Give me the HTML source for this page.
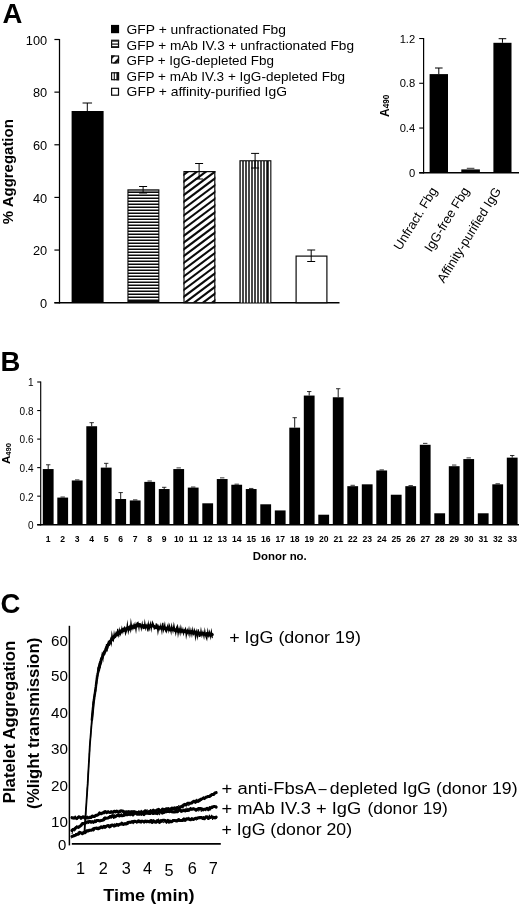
<!DOCTYPE html>
<html lang="en">
<head>
<meta charset="utf-8">
<title>Figure</title>
<style>
html,body{margin:0;padding:0;background:#fff;}
body{width:520px;height:907px;overflow:hidden;}
svg{display:block;will-change:transform;}
svg text{font-family:"Liberation Sans", Arial, Helvetica, sans-serif;fill:#000;}
</style>
</head>
<body>
<svg width="520" height="907" viewBox="0 0 520 907">
<rect x="0" y="0" width="520" height="907" fill="#fff"/>
<defs><clipPath id="cb2"><rect x="127.4" y="189.3" width="32" height="113.4"/></clipPath><clipPath id="cb3"><rect x="183.4" y="171" width="32" height="131.7"/></clipPath><clipPath id="cb4"><rect x="239.4" y="160.2" width="32" height="142.5"/></clipPath></defs>
<text x="2.40" y="22.90" font-size="27.5" font-weight="bold">A</text>
<line x1="59.50" y1="39.00" x2="59.50" y2="303.40" stroke="#000" stroke-width="1.25"/>
<line x1="54.40" y1="302.70" x2="339.50" y2="302.70" stroke="#000" stroke-width="1.45"/>
<line x1="54.40" y1="302.70" x2="59.50" y2="302.70" stroke="#000" stroke-width="1.2"/>
<text x="47.20" y="307.90" font-size="12.8" text-anchor="end">0</text>
<line x1="54.40" y1="250.06" x2="59.50" y2="250.06" stroke="#000" stroke-width="1.2"/>
<text x="47.20" y="255.26" font-size="12.8" text-anchor="end">20</text>
<line x1="54.40" y1="197.42" x2="59.50" y2="197.42" stroke="#000" stroke-width="1.2"/>
<text x="47.20" y="202.62" font-size="12.8" text-anchor="end">40</text>
<line x1="54.40" y1="144.78" x2="59.50" y2="144.78" stroke="#000" stroke-width="1.2"/>
<text x="47.20" y="149.98" font-size="12.8" text-anchor="end">60</text>
<line x1="54.40" y1="92.14" x2="59.50" y2="92.14" stroke="#000" stroke-width="1.2"/>
<text x="47.20" y="97.34" font-size="12.8" text-anchor="end">80</text>
<line x1="54.40" y1="39.50" x2="59.50" y2="39.50" stroke="#000" stroke-width="1.2"/>
<text x="47.20" y="44.70" font-size="12.8" text-anchor="end">100</text>
<text x="12.60" y="171.70" font-size="14.8" font-weight="bold" text-anchor="middle" textLength="105.0" lengthAdjust="spacingAndGlyphs" transform="rotate(-90 12.60 171.70)">% Aggregation</text>
<rect x="71.60" y="111.00" width="32.00" height="191.70" fill="#000"/>
<rect x="127.40" y="189.30" width="32.00" height="113.40" fill="#0a0a0a"/>
<g clip-path="url(#cb2)">
<rect x="128.50" y="190.40" width="29.80" height="1.30" fill="#9a9a9a"/>
<rect x="128.50" y="193.00" width="29.80" height="1.50" fill="#fff"/>
<rect x="128.50" y="196.00" width="29.80" height="1.50" fill="#fff"/>
<rect x="128.50" y="199.00" width="29.80" height="1.50" fill="#fff"/>
<rect x="128.50" y="202.00" width="29.80" height="1.50" fill="#fff"/>
<rect x="128.50" y="205.00" width="29.80" height="1.50" fill="#fff"/>
<rect x="128.50" y="208.00" width="29.80" height="1.50" fill="#fff"/>
<rect x="128.50" y="211.00" width="29.80" height="1.50" fill="#fff"/>
<rect x="128.50" y="214.00" width="29.80" height="1.50" fill="#fff"/>
<rect x="128.50" y="217.00" width="29.80" height="1.50" fill="#fff"/>
<rect x="128.50" y="220.00" width="29.80" height="1.50" fill="#fff"/>
<rect x="128.50" y="223.00" width="29.80" height="1.50" fill="#fff"/>
<rect x="128.50" y="226.00" width="29.80" height="1.50" fill="#fff"/>
<rect x="128.50" y="229.00" width="29.80" height="1.50" fill="#fff"/>
<rect x="128.50" y="232.00" width="29.80" height="1.50" fill="#fff"/>
<rect x="128.50" y="235.00" width="29.80" height="1.50" fill="#fff"/>
<rect x="128.50" y="238.00" width="29.80" height="1.50" fill="#fff"/>
<rect x="128.50" y="241.00" width="29.80" height="1.50" fill="#fff"/>
<rect x="128.50" y="244.00" width="29.80" height="1.50" fill="#fff"/>
<rect x="128.50" y="247.00" width="29.80" height="1.50" fill="#fff"/>
<rect x="128.50" y="250.00" width="29.80" height="1.50" fill="#fff"/>
<rect x="128.50" y="253.00" width="29.80" height="1.50" fill="#fff"/>
<rect x="128.50" y="256.00" width="29.80" height="1.50" fill="#fff"/>
<rect x="128.50" y="259.00" width="29.80" height="1.50" fill="#fff"/>
<rect x="128.50" y="262.00" width="29.80" height="1.50" fill="#fff"/>
<rect x="128.50" y="265.00" width="29.80" height="1.50" fill="#fff"/>
<rect x="128.50" y="268.00" width="29.80" height="1.50" fill="#fff"/>
<rect x="128.50" y="271.00" width="29.80" height="1.50" fill="#fff"/>
<rect x="128.50" y="274.00" width="29.80" height="1.50" fill="#fff"/>
<rect x="128.50" y="277.00" width="29.80" height="1.50" fill="#fff"/>
<rect x="128.50" y="280.00" width="29.80" height="1.50" fill="#fff"/>
<rect x="128.50" y="283.00" width="29.80" height="1.50" fill="#fff"/>
<rect x="128.50" y="286.00" width="29.80" height="1.50" fill="#fff"/>
<rect x="128.50" y="289.00" width="29.80" height="1.50" fill="#fff"/>
<rect x="128.50" y="292.00" width="29.80" height="1.50" fill="#fff"/>
<rect x="128.50" y="295.00" width="29.80" height="1.50" fill="#fff"/>
<rect x="128.50" y="298.00" width="29.80" height="1.50" fill="#fff"/>
</g>
<rect x="184.00" y="171.60" width="30.80" height="131.10" fill="#fff" stroke="#0a0a0a" stroke-width="1.2"/>
<g clip-path="url(#cb3)" stroke="#0a0a0a" stroke-width="2.1">
<line x1="181.40" y1="162.94" x2="217.40" y2="135.94"/>
<line x1="181.40" y1="169.72" x2="217.40" y2="142.72"/>
<line x1="181.40" y1="176.50" x2="217.40" y2="149.50"/>
<line x1="181.40" y1="183.28" x2="217.40" y2="156.28"/>
<line x1="181.40" y1="190.06" x2="217.40" y2="163.06"/>
<line x1="181.40" y1="196.84" x2="217.40" y2="169.84"/>
<line x1="181.40" y1="203.62" x2="217.40" y2="176.62"/>
<line x1="181.40" y1="210.40" x2="217.40" y2="183.40"/>
<line x1="181.40" y1="217.18" x2="217.40" y2="190.18"/>
<line x1="181.40" y1="223.96" x2="217.40" y2="196.96"/>
<line x1="181.40" y1="230.74" x2="217.40" y2="203.74"/>
<line x1="181.40" y1="237.52" x2="217.40" y2="210.52"/>
<line x1="181.40" y1="244.30" x2="217.40" y2="217.30"/>
<line x1="181.40" y1="251.08" x2="217.40" y2="224.08"/>
<line x1="181.40" y1="257.86" x2="217.40" y2="230.86"/>
<line x1="181.40" y1="264.64" x2="217.40" y2="237.64"/>
<line x1="181.40" y1="271.42" x2="217.40" y2="244.42"/>
<line x1="181.40" y1="278.20" x2="217.40" y2="251.20"/>
<line x1="181.40" y1="284.98" x2="217.40" y2="257.98"/>
<line x1="181.40" y1="291.76" x2="217.40" y2="264.76"/>
<line x1="181.40" y1="298.54" x2="217.40" y2="271.54"/>
<line x1="181.40" y1="305.32" x2="217.40" y2="278.32"/>
<line x1="181.40" y1="312.10" x2="217.40" y2="285.10"/>
<line x1="181.40" y1="318.88" x2="217.40" y2="291.88"/>
<line x1="181.40" y1="325.66" x2="217.40" y2="298.66"/>
<line x1="181.40" y1="332.44" x2="217.40" y2="305.44"/>
</g>
<rect x="239.40" y="160.20" width="32.00" height="142.50" fill="#0a0a0a"/>
<g clip-path="url(#cb4)">
<rect x="240.75" y="161.30" width="1.50" height="141.40" fill="#fff"/>
<rect x="243.75" y="161.30" width="1.50" height="141.40" fill="#fff"/>
<rect x="246.75" y="161.30" width="1.50" height="141.40" fill="#fff"/>
<rect x="249.75" y="161.30" width="1.50" height="141.40" fill="#fff"/>
<rect x="252.75" y="161.30" width="1.50" height="141.40" fill="#fff"/>
<rect x="255.75" y="161.30" width="1.50" height="141.40" fill="#fff"/>
<rect x="258.75" y="161.30" width="1.50" height="141.40" fill="#fff"/>
<rect x="261.75" y="161.30" width="1.50" height="141.40" fill="#fff"/>
<rect x="264.75" y="161.30" width="1.50" height="141.40" fill="#fff"/>
<rect x="268.75" y="161.30" width="1.50" height="141.40" fill="#fff"/>
</g>
<rect x="296.10" y="256.10" width="30.80" height="46.60" fill="#fff" stroke="#0a0a0a" stroke-width="1.2"/>
<line x1="87.30" y1="103.00" x2="87.30" y2="111.00" stroke="#000" stroke-width="1.0"/>
<line x1="82.55" y1="103.00" x2="92.05" y2="103.00" stroke="#000" stroke-width="1.0"/>
<line x1="143.10" y1="186.50" x2="143.10" y2="193.00" stroke="#000" stroke-width="1.0"/>
<line x1="139.10" y1="186.50" x2="147.10" y2="186.50" stroke="#000" stroke-width="1.0"/>
<line x1="139.10" y1="193.00" x2="147.10" y2="193.00" stroke="#000" stroke-width="1.0"/>
<line x1="199.10" y1="163.50" x2="199.10" y2="179.00" stroke="#000" stroke-width="1.0"/>
<line x1="195.10" y1="163.50" x2="203.10" y2="163.50" stroke="#000" stroke-width="1.0"/>
<line x1="195.10" y1="179.00" x2="203.10" y2="179.00" stroke="#000" stroke-width="1.0"/>
<line x1="255.10" y1="153.40" x2="255.10" y2="168.00" stroke="#000" stroke-width="1.0"/>
<line x1="251.10" y1="153.40" x2="259.10" y2="153.40" stroke="#000" stroke-width="1.0"/>
<line x1="251.10" y1="168.00" x2="259.10" y2="168.00" stroke="#000" stroke-width="1.0"/>
<line x1="311.20" y1="250.00" x2="311.20" y2="261.50" stroke="#000" stroke-width="1.0"/>
<line x1="307.20" y1="250.00" x2="315.20" y2="250.00" stroke="#000" stroke-width="1.0"/>
<line x1="307.20" y1="261.50" x2="315.20" y2="261.50" stroke="#000" stroke-width="1.0"/>
<rect x="111.00" y="24.90" width="8.10" height="8.30" fill="#000"/>
<rect x="111.60" y="40.40" width="6.90" height="6.90" fill="#fff" stroke="#0a0a0a" stroke-width="1.2"/>
<rect x="111.00" y="39.80" width="8.10" height="1.90" fill="#222"/>
<line x1="111.00" y1="44.10" x2="119.10" y2="44.10" stroke="#111" stroke-width="1.2"/>
<rect x="111.00" y="46.20" width="8.10" height="1.70" fill="#111"/>
<rect x="111.60" y="56.00" width="6.90" height="6.90" fill="#fff" stroke="#0a0a0a" stroke-width="1.2"/>
<path d="M111.00 55.40 h4.2 L111.00 60.00 Z" fill="#111"/>
<path d="M112.80 63.50 L119.10 57.00 v3.4 L116.20 63.50 Z" fill="#111"/>
<rect x="111.60" y="72.80" width="6.90" height="6.90" fill="#fff" stroke="#0a0a0a" stroke-width="1.2"/>
<line x1="114.30" y1="72.20" x2="114.30" y2="80.30" stroke="#111" stroke-width="1.1"/>
<rect x="116.40" y="72.20" width="2.70" height="8.10" fill="#111"/>
<rect x="111.60" y="88.30" width="6.90" height="6.90" fill="#fff" stroke="#0a0a0a" stroke-width="1.2"/>
<text x="126.60" y="34.20" font-size="12.8" textLength="159.4" lengthAdjust="spacingAndGlyphs">GFP + unfractionated Fbg</text>
<text x="126.60" y="49.60" font-size="12.8" textLength="227.4" lengthAdjust="spacingAndGlyphs">GFP + mAb IV.3 + unfractionated Fbg</text>
<text x="126.60" y="65.10" font-size="12.8" textLength="147.4" lengthAdjust="spacingAndGlyphs">GFP + IgG-depleted Fbg</text>
<text x="126.60" y="80.60" font-size="12.8" textLength="218.4" lengthAdjust="spacingAndGlyphs">GFP + mAb IV.3 + IgG-depleted Fbg</text>
<text x="126.60" y="96.10" font-size="12.8" textLength="160.4" lengthAdjust="spacingAndGlyphs">GFP + affinity-purified IgG</text>
<line x1="423.60" y1="38.00" x2="423.60" y2="173.50" stroke="#000" stroke-width="1.2"/>
<line x1="419.20" y1="172.80" x2="519.00" y2="172.80" stroke="#000" stroke-width="1.4"/>
<line x1="419.20" y1="172.80" x2="423.60" y2="172.80" stroke="#000" stroke-width="1.1"/>
<text x="415.20" y="176.80" font-size="11.2" text-anchor="end">0</text>
<line x1="419.20" y1="128.04" x2="423.60" y2="128.04" stroke="#000" stroke-width="1.1"/>
<text x="415.20" y="132.04" font-size="11.2" text-anchor="end">0.4</text>
<line x1="419.20" y1="83.28" x2="423.60" y2="83.28" stroke="#000" stroke-width="1.1"/>
<text x="415.20" y="87.28" font-size="11.2" text-anchor="end">0.8</text>
<line x1="419.20" y1="38.52" x2="423.60" y2="38.52" stroke="#000" stroke-width="1.1"/>
<text x="415.20" y="42.52" font-size="11.2" text-anchor="end">1.2</text>
<rect x="429.60" y="74.10" width="18.40" height="98.70" fill="#000"/>
<line x1="438.80" y1="68.00" x2="438.80" y2="74.10" stroke="#000" stroke-width="1.0"/>
<line x1="435.00" y1="68.00" x2="442.60" y2="68.00" stroke="#000" stroke-width="1.0"/>
<rect x="461.30" y="169.40" width="18.60" height="3.40" fill="#000"/>
<line x1="466.80" y1="168.30" x2="474.40" y2="168.30" stroke="#000" stroke-width="0.8"/>
<rect x="493.40" y="42.80" width="18.10" height="130.00" fill="#000"/>
<line x1="502.45" y1="38.70" x2="502.45" y2="42.80" stroke="#000" stroke-width="1.0"/>
<line x1="498.65" y1="38.70" x2="506.25" y2="38.70" stroke="#000" stroke-width="1.0"/>
<text x="388.9" y="116.9" font-size="12" font-weight="bold" transform="rotate(-90 388.9 116.9)">A<tspan font-size="8.2" dy="0.3">490</tspan></text>
<text x="437.90" y="190.60" font-size="12.9" text-anchor="end" transform="rotate(-58.3 437.90 190.60)">Unfract. Fbg</text>
<text x="469.70" y="190.60" font-size="12.9" text-anchor="end" transform="rotate(-58.3 469.70 190.60)">IgG-free Fbg</text>
<text x="501.50" y="190.60" font-size="12.9" text-anchor="end" transform="rotate(-58.3 501.50 190.60)">Affinity-purified IgG</text>
<text x="0.60" y="371.00" font-size="27.5" font-weight="bold">B</text>
<line x1="40.70" y1="381.50" x2="40.70" y2="525.40" stroke="#000" stroke-width="1.15"/>
<line x1="37.20" y1="524.70" x2="519.00" y2="524.70" stroke="#000" stroke-width="1.4"/>
<line x1="37.20" y1="524.70" x2="40.70" y2="524.70" stroke="#000" stroke-width="1.1"/>
<text x="33.50" y="529.10" font-size="10.0" text-anchor="end">0</text>
<line x1="37.20" y1="496.16" x2="40.70" y2="496.16" stroke="#000" stroke-width="1.1"/>
<text x="33.50" y="500.56" font-size="10.0" text-anchor="end">0.2</text>
<line x1="37.20" y1="467.62" x2="40.70" y2="467.62" stroke="#000" stroke-width="1.1"/>
<text x="33.50" y="472.02" font-size="10.0" text-anchor="end">0.4</text>
<line x1="37.20" y1="439.08" x2="40.70" y2="439.08" stroke="#000" stroke-width="1.1"/>
<text x="33.50" y="443.48" font-size="10.0" text-anchor="end">0.6</text>
<line x1="37.20" y1="410.54" x2="40.70" y2="410.54" stroke="#000" stroke-width="1.1"/>
<text x="33.50" y="414.94" font-size="10.0" text-anchor="end">0.8</text>
<line x1="37.20" y1="382.00" x2="40.70" y2="382.00" stroke="#000" stroke-width="1.1"/>
<text x="33.50" y="386.40" font-size="10.0" text-anchor="end">1</text>
<rect x="42.80" y="469.05" width="10.80" height="55.65" fill="#000"/>
<line x1="48.20" y1="464.77" x2="48.20" y2="469.05" stroke="#000" stroke-width="0.9"/>
<line x1="46.00" y1="464.77" x2="50.40" y2="464.77" stroke="#000" stroke-width="0.8"/>
<text x="48.20" y="542.40" font-size="8.6" font-weight="bold" text-anchor="middle">1</text>
<rect x="57.30" y="497.59" width="10.80" height="27.11" fill="#000"/>
<line x1="60.50" y1="497.02" x2="64.90" y2="497.02" stroke="#000" stroke-width="0.8"/>
<text x="62.70" y="542.40" font-size="8.6" font-weight="bold" text-anchor="middle">2</text>
<rect x="71.80" y="480.46" width="10.80" height="44.24" fill="#000"/>
<line x1="75.00" y1="479.89" x2="79.40" y2="479.89" stroke="#000" stroke-width="0.8"/>
<text x="77.20" y="542.40" font-size="8.6" font-weight="bold" text-anchor="middle">3</text>
<rect x="86.30" y="426.24" width="10.80" height="98.46" fill="#000"/>
<line x1="91.70" y1="422.67" x2="91.70" y2="426.24" stroke="#000" stroke-width="0.9"/>
<line x1="89.50" y1="422.67" x2="93.90" y2="422.67" stroke="#000" stroke-width="0.8"/>
<text x="91.70" y="542.40" font-size="8.6" font-weight="bold" text-anchor="middle">4</text>
<rect x="100.80" y="467.62" width="10.80" height="57.08" fill="#000"/>
<line x1="106.20" y1="463.34" x2="106.20" y2="467.62" stroke="#000" stroke-width="0.9"/>
<line x1="104.00" y1="463.34" x2="108.40" y2="463.34" stroke="#000" stroke-width="0.8"/>
<text x="106.20" y="542.40" font-size="8.6" font-weight="bold" text-anchor="middle">5</text>
<rect x="115.30" y="499.01" width="10.80" height="25.69" fill="#000"/>
<line x1="120.70" y1="492.59" x2="120.70" y2="499.01" stroke="#000" stroke-width="0.9"/>
<line x1="118.50" y1="492.59" x2="122.90" y2="492.59" stroke="#000" stroke-width="0.8"/>
<text x="120.70" y="542.40" font-size="8.6" font-weight="bold" text-anchor="middle">6</text>
<rect x="129.80" y="500.44" width="10.80" height="24.26" fill="#000"/>
<line x1="133.00" y1="499.87" x2="137.40" y2="499.87" stroke="#000" stroke-width="0.8"/>
<text x="135.20" y="542.40" font-size="8.6" font-weight="bold" text-anchor="middle">7</text>
<rect x="144.30" y="481.89" width="10.80" height="42.81" fill="#000"/>
<line x1="147.50" y1="481.03" x2="151.90" y2="481.03" stroke="#000" stroke-width="0.8"/>
<text x="149.70" y="542.40" font-size="8.6" font-weight="bold" text-anchor="middle">8</text>
<rect x="158.80" y="489.03" width="10.80" height="35.68" fill="#000"/>
<line x1="164.20" y1="487.31" x2="164.20" y2="489.03" stroke="#000" stroke-width="0.9"/>
<line x1="162.00" y1="487.31" x2="166.40" y2="487.31" stroke="#000" stroke-width="0.8"/>
<text x="164.20" y="542.40" font-size="8.6" font-weight="bold" text-anchor="middle">9</text>
<rect x="173.30" y="469.05" width="10.80" height="55.65" fill="#000"/>
<line x1="176.50" y1="467.91" x2="180.90" y2="467.91" stroke="#000" stroke-width="0.8"/>
<text x="178.70" y="542.40" font-size="8.6" font-weight="bold" text-anchor="middle">10</text>
<rect x="187.80" y="487.60" width="10.80" height="37.10" fill="#000"/>
<line x1="191.00" y1="487.03" x2="195.40" y2="487.03" stroke="#000" stroke-width="0.8"/>
<text x="193.20" y="542.40" font-size="8.6" font-weight="bold" text-anchor="middle">11</text>
<rect x="202.30" y="503.30" width="10.80" height="21.40" fill="#000"/>
<text x="207.70" y="542.40" font-size="8.6" font-weight="bold" text-anchor="middle">12</text>
<rect x="216.80" y="479.04" width="10.80" height="45.66" fill="#000"/>
<line x1="220.00" y1="477.89" x2="224.40" y2="477.89" stroke="#000" stroke-width="0.8"/>
<text x="222.20" y="542.40" font-size="8.6" font-weight="bold" text-anchor="middle">13</text>
<rect x="231.30" y="484.74" width="10.80" height="39.96" fill="#000"/>
<line x1="234.50" y1="484.17" x2="238.90" y2="484.17" stroke="#000" stroke-width="0.8"/>
<text x="236.70" y="542.40" font-size="8.6" font-weight="bold" text-anchor="middle">14</text>
<rect x="245.80" y="489.03" width="10.80" height="35.68" fill="#000"/>
<line x1="249.00" y1="488.45" x2="253.40" y2="488.45" stroke="#000" stroke-width="0.8"/>
<text x="251.20" y="542.40" font-size="8.6" font-weight="bold" text-anchor="middle">15</text>
<rect x="260.30" y="504.29" width="10.80" height="20.41" fill="#000"/>
<text x="265.70" y="542.40" font-size="8.6" font-weight="bold" text-anchor="middle">16</text>
<rect x="274.80" y="510.43" width="10.80" height="14.27" fill="#000"/>
<text x="280.20" y="542.40" font-size="8.6" font-weight="bold" text-anchor="middle">17</text>
<rect x="289.30" y="427.66" width="10.80" height="97.04" fill="#000"/>
<line x1="294.70" y1="417.68" x2="294.70" y2="427.66" stroke="#000" stroke-width="0.9"/>
<line x1="292.50" y1="417.68" x2="296.90" y2="417.68" stroke="#000" stroke-width="0.8"/>
<text x="294.70" y="542.40" font-size="8.6" font-weight="bold" text-anchor="middle">18</text>
<rect x="303.80" y="395.56" width="10.80" height="129.14" fill="#000"/>
<line x1="309.20" y1="391.56" x2="309.20" y2="395.56" stroke="#000" stroke-width="0.9"/>
<line x1="307.00" y1="391.56" x2="311.40" y2="391.56" stroke="#000" stroke-width="0.8"/>
<text x="309.20" y="542.40" font-size="8.6" font-weight="bold" text-anchor="middle">19</text>
<rect x="318.30" y="514.71" width="10.80" height="9.99" fill="#000"/>
<text x="323.70" y="542.40" font-size="8.6" font-weight="bold" text-anchor="middle">20</text>
<rect x="332.80" y="397.27" width="10.80" height="127.43" fill="#000"/>
<line x1="338.20" y1="388.71" x2="338.20" y2="397.27" stroke="#000" stroke-width="0.9"/>
<line x1="336.00" y1="388.71" x2="340.40" y2="388.71" stroke="#000" stroke-width="0.8"/>
<text x="338.20" y="542.40" font-size="8.6" font-weight="bold" text-anchor="middle">21</text>
<rect x="347.30" y="486.17" width="10.80" height="38.53" fill="#000"/>
<line x1="350.50" y1="485.31" x2="354.90" y2="485.31" stroke="#000" stroke-width="0.8"/>
<text x="352.70" y="542.40" font-size="8.6" font-weight="bold" text-anchor="middle">22</text>
<rect x="361.80" y="484.32" width="10.80" height="40.38" fill="#000"/>
<text x="367.20" y="542.40" font-size="8.6" font-weight="bold" text-anchor="middle">23</text>
<rect x="376.30" y="470.47" width="10.80" height="54.23" fill="#000"/>
<line x1="379.50" y1="469.90" x2="383.90" y2="469.90" stroke="#000" stroke-width="0.8"/>
<text x="381.70" y="542.40" font-size="8.6" font-weight="bold" text-anchor="middle">24</text>
<rect x="390.80" y="494.73" width="10.80" height="29.97" fill="#000"/>
<text x="396.20" y="542.40" font-size="8.6" font-weight="bold" text-anchor="middle">25</text>
<rect x="405.30" y="486.17" width="10.80" height="38.53" fill="#000"/>
<line x1="408.50" y1="485.60" x2="412.90" y2="485.60" stroke="#000" stroke-width="0.8"/>
<text x="410.70" y="542.40" font-size="8.6" font-weight="bold" text-anchor="middle">26</text>
<rect x="419.80" y="444.79" width="10.80" height="79.91" fill="#000"/>
<line x1="423.00" y1="443.36" x2="427.40" y2="443.36" stroke="#000" stroke-width="0.8"/>
<text x="425.20" y="542.40" font-size="8.6" font-weight="bold" text-anchor="middle">27</text>
<rect x="434.30" y="513.28" width="10.80" height="11.42" fill="#000"/>
<text x="439.70" y="542.40" font-size="8.6" font-weight="bold" text-anchor="middle">28</text>
<rect x="448.80" y="466.19" width="10.80" height="58.51" fill="#000"/>
<line x1="452.00" y1="465.05" x2="456.40" y2="465.05" stroke="#000" stroke-width="0.8"/>
<text x="454.20" y="542.40" font-size="8.6" font-weight="bold" text-anchor="middle">29</text>
<rect x="463.30" y="459.06" width="10.80" height="65.64" fill="#000"/>
<line x1="466.50" y1="457.92" x2="470.90" y2="457.92" stroke="#000" stroke-width="0.8"/>
<text x="468.70" y="542.40" font-size="8.6" font-weight="bold" text-anchor="middle">30</text>
<rect x="477.80" y="513.28" width="10.80" height="11.42" fill="#000"/>
<text x="483.20" y="542.40" font-size="8.6" font-weight="bold" text-anchor="middle">31</text>
<rect x="492.30" y="484.32" width="10.80" height="40.38" fill="#000"/>
<line x1="495.50" y1="483.75" x2="499.90" y2="483.75" stroke="#000" stroke-width="0.8"/>
<text x="497.70" y="542.40" font-size="8.6" font-weight="bold" text-anchor="middle">32</text>
<rect x="506.80" y="457.63" width="10.80" height="67.07" fill="#000"/>
<line x1="512.20" y1="455.49" x2="512.20" y2="457.63" stroke="#000" stroke-width="0.9"/>
<line x1="510.00" y1="455.49" x2="514.40" y2="455.49" stroke="#000" stroke-width="0.8"/>
<text x="512.20" y="542.40" font-size="8.6" font-weight="bold" text-anchor="middle">33</text>
<text x="10.4" y="464.0" font-size="11.6" font-weight="bold" transform="rotate(-90 10.4 464.0)">A<tspan font-size="7.6" dy="0.9">490</tspan></text>
<text x="279.80" y="560.00" font-size="11.2" font-weight="bold" text-anchor="middle" textLength="54.0" lengthAdjust="spacingAndGlyphs">Donor no.</text>
<text x="0.40" y="613.20" font-size="27.5" font-weight="bold">C</text>
<line x1="69.40" y1="625.80" x2="69.40" y2="845.40" stroke="#000" stroke-width="1.5"/>
<line x1="71.80" y1="843.90" x2="220.80" y2="843.90" stroke="#000" stroke-width="1.6"/>
<text x="68.00" y="645.90" font-size="14.9" text-anchor="end" textLength="16.9" lengthAdjust="spacingAndGlyphs">60</text>
<text x="68.00" y="681.30" font-size="14.9" text-anchor="end" textLength="16.9" lengthAdjust="spacingAndGlyphs">50</text>
<text x="68.00" y="717.60" font-size="14.9" text-anchor="end" textLength="16.9" lengthAdjust="spacingAndGlyphs">40</text>
<text x="68.00" y="754.20" font-size="14.9" text-anchor="end" textLength="16.9" lengthAdjust="spacingAndGlyphs">30</text>
<text x="68.00" y="790.80" font-size="14.9" text-anchor="end" textLength="16.9" lengthAdjust="spacingAndGlyphs">20</text>
<text x="68.00" y="827.10" font-size="14.9" text-anchor="end" textLength="16.9" lengthAdjust="spacingAndGlyphs">10</text>
<text x="66.40" y="850.20" font-size="14.9" text-anchor="end">0</text>
<text x="14.50" y="722.00" font-size="16.8" font-weight="bold" text-anchor="middle" textLength="162.6" lengthAdjust="spacingAndGlyphs" transform="rotate(-90 14.50 722.00)">Platelet Aggregation</text>
<text x="38.80" y="723.30" font-size="16.8" font-weight="bold" text-anchor="middle" textLength="171.2" lengthAdjust="spacingAndGlyphs" transform="rotate(-90 38.80 723.30)">(%light transmission)</text>
<path d="M84.40 832.50 L84.43 832.04 L84.46 831.58 L84.49 831.12 L84.53 830.66 L84.56 830.20 L84.59 829.74 L84.62 829.28 L84.65 828.82 L84.68 828.36 L84.72 827.89 L84.75 827.43 L84.78 826.97 L84.81 826.51 L84.84 826.05 L84.87 825.59 L84.91 825.13 L84.94 824.67 L84.97 824.21 L85.00 823.75 L85.03 823.29 L85.06 822.83 L85.09 822.37 L85.13 821.91 L85.16 821.45 L85.19 820.99 L85.22 820.53 L85.25 820.07 L85.28 819.61 L85.32 819.14 L85.35 818.68 L85.38 818.22 L85.41 817.76 L85.44 817.30 L85.47 816.84 L85.51 816.38 L85.54 815.92 L85.57 815.46 L85.60 815.00 L85.63 814.55 L85.66 814.09 L85.69 813.64 L85.72 813.18 L85.75 812.73 L85.78 812.27 L85.81 811.82 L85.84 811.36 L85.87 810.91 L85.90 810.45 L85.93 810.00 L85.96 809.55 L85.99 809.09 L86.02 808.64 L86.05 808.18 L86.08 807.73 L86.12 807.27 L86.15 806.82 L86.18 806.36 L86.21 805.91 L86.24 805.45 L86.27 805.00 L86.30 804.55 L86.33 804.09 L86.36 803.64 L86.39 803.18 L86.42 802.73 L86.45 802.27 L86.48 801.82 L86.51 801.36 L86.54 800.91 L86.57 800.45 L86.60 800.00 L86.63 799.55 L86.66 799.09 L86.69 798.64 L86.72 798.18 L86.75 797.73 L86.78 797.27 L86.81 796.82 L86.84 796.36 L86.87 795.91 L86.90 795.45 L86.93 795.00 L86.96 794.55 L86.99 794.09 L87.02 793.64 L87.05 793.18 L87.08 792.73 L87.12 792.27 L87.15 791.82 L87.18 791.36 L87.21 790.91 L87.24 790.45 L87.27 790.00 L87.30 789.55 L87.33 789.09 L87.36 788.64 L87.39 788.18 L87.42 787.73 L87.45 787.27 L87.48 786.82 L87.51 786.36 L87.54 785.91 L87.57 785.45 L87.60 785.00 L87.63 784.55 L87.65 784.09 L87.68 783.64 L87.70 783.18 L87.73 782.73 L87.76 782.28 L87.78 781.82 L87.81 781.37 L87.83 780.91 L87.86 780.46 L87.88 780.01 L87.91 779.55 L87.94 779.10 L87.96 778.64 L87.99 778.19 L88.01 777.74 L88.04 777.28 L88.07 776.83 L88.09 776.38 L88.12 775.92 L88.14 775.47 L88.17 775.01 L88.19 774.56 L88.22 774.11 L88.25 773.65 L88.27 773.20 L88.30 772.74 L88.32 772.29 L88.35 771.84 L88.38 771.38 L88.40 770.93 L88.43 770.47 L88.45 770.02 L88.48 769.57 L88.50 769.11 L88.53 768.66 L88.56 768.20 L88.58 767.75 L88.61 767.30 L88.63 766.84 L88.66 766.39 L88.69 765.93 L88.71 765.48 L88.74 765.03 L88.76 764.57 L88.79 764.12 L88.81 763.67 L88.84 763.21 L88.87 762.76 L88.89 762.30 L88.92 761.85 L88.94 761.40 L88.97 760.94 L89.00 760.49 L89.02 760.03 L89.05 759.58 L89.07 759.13 L89.10 758.67 L89.12 758.22 L89.15 757.76 L89.18 757.31 L89.20 756.86 L89.23 756.40 L89.25 755.95 L89.28 755.49 L89.31 755.04 L89.33 754.59 L89.36 754.13 L89.38 753.68 L89.41 753.22 L89.43 752.77 L89.46 752.32 L89.49 751.86 L89.51 751.41 L89.54 750.96 L89.56 750.50 L89.59 750.05 L89.62 749.59 L89.64 749.14 L89.67 748.69 L89.69 748.23 L89.72 747.78 L89.74 747.32 L89.77 746.87 L89.80 746.42 L89.82 745.96 L89.85 745.51 L89.87 745.05 L89.90 744.60 L89.94 744.14 L89.97 743.69 L90.01 743.23 L90.05 742.78 L90.09 742.32 L90.12 741.87 L90.16 741.41 L90.20 740.96 L90.23 740.50 L90.27 740.04 L90.31 739.59 L90.34 739.13 L90.38 738.68 L90.42 738.22 L90.46 737.77 L90.49 737.31 L90.53 736.86 L90.57 736.40 L90.60 735.94 L90.64 735.49 L90.68 735.03 L90.71 734.58 L90.75 734.12 L90.79 733.67 L90.83 733.21 L90.86 732.76 L90.90 732.30 L90.94 731.84 L90.97 731.39 L91.01 730.93 L91.05 730.48 L91.09 730.02 L91.12 729.57 L91.16 729.11 L91.20 728.66 L91.23 728.20 L91.27 727.74 L91.31 727.29 L91.34 726.83 L91.38 726.38 L91.42 725.92 L91.46 725.47 L91.49 725.01 L91.53 724.56 L91.57 724.10 L91.60 723.64 L91.64 723.19 L91.68 722.73 L91.71 722.28 L91.75 721.82 L91.79 721.37 L91.83 720.91 L91.86 720.46 L91.90 720.00 L91.94 719.55 L91.98 719.10 L92.03 718.65 L92.07 718.20 L92.11 717.75 L92.16 717.30 L92.20 716.85 L92.24 716.40 L92.28 715.95 L92.33 715.50 L92.37 715.05 L92.41 714.60 L92.45 714.15 L92.50 713.70 L92.54 713.25 L92.58 712.80 L92.62 712.35 L92.67 711.90 L92.71 711.45 L92.75 711.00 L92.79 710.55 L92.83 710.10 L92.88 709.65 L92.92 709.20 L92.96 708.75 L93.00 708.30 L93.05 707.85 L93.09 707.40 L93.13 706.95 L93.17 706.50 L93.22 706.05 L93.26 705.60 L93.30 705.15 L93.34 704.70 L93.39 704.25 L93.43 703.80 L93.47 703.35 L93.52 702.90 L93.56 702.45 L93.60 702.00" fill="none" stroke="#000" stroke-width="1.8" stroke-linejoin="round" stroke-linecap="round"/>
<path d="M84.47 832.50 L84.74 829.00 L84.73 825.50 L85.32 822.00 L85.32 818.50 L85.78 815.00 L85.82 812.00 L85.88 809.00 L86.29 806.00 L86.52 803.00 L86.49 800.00 L86.76 797.00 L87.19 794.00 L87.07 791.00 L87.24 788.00 L87.68 785.00 L87.84 781.89 L88.07 778.78 L87.98 775.68 L88.19 772.57 L88.47 769.46 L88.61 766.35 L88.68 763.25 L89.20 760.14 L89.39 757.03 L89.28 753.92 L89.69 750.82 L89.60 747.71 L89.88 744.60 L90.11 741.52 L90.49 738.45 L90.76 735.38 L90.93 732.30 L91.12 729.23 L91.37 726.15 L91.76 723.08 L91.95 720.00 L92.31 717.00 L92.42 714.00 L92.83 711.00 L92.93 708.00 L93.49 705.00 L93.59 702.00" fill="none" stroke="#000" stroke-width="0.9" stroke-linejoin="miter" stroke-miterlimit="8" stroke-linecap="round"/>
<path d="M91.90 719.79 L91.94 719.13 L91.98 719.28 L92.03 718.14 L92.07 718.24 L92.11 717.59 L92.16 716.77 L92.20 716.86 L92.24 715.84 L92.28 715.87 L92.33 714.98 L92.37 714.56 L92.41 714.51 L92.45 714.54 L92.50 713.25 L92.54 712.92 L92.58 712.95 L92.62 712.89 L92.67 711.99 L92.71 711.33 L92.75 711.57 L92.79 710.01 L92.83 710.53 L92.88 709.40 L92.92 708.77 L92.96 708.29 L93.00 708.07 L93.05 708.23 L93.09 707.02 L93.13 707.05 L93.17 706.67 L93.22 705.90 L93.26 705.66 L93.30 704.63 L93.34 704.17 L93.39 703.90 L93.43 704.02 L93.47 703.26 L93.52 702.68 L93.56 702.55 L93.60 701.94 L93.67 701.30 L93.74 701.43 L93.81 700.85 L93.88 699.85 L93.95 699.78 L94.02 699.26 L94.08 699.22 L94.15 698.58 L94.22 697.59 L94.29 697.96 L94.36 696.46 L94.43 696.36 L94.50 696.31 L94.57 695.12 L94.64 695.06 L94.71 694.06 L94.78 694.36 L94.85 694.01 L94.92 693.32 L94.98 693.22 L95.05 692.08 L95.12 692.08 L95.19 691.50 L95.26 691.02 L95.33 690.41 L95.40 690.41 L95.46 690.07 L95.52 689.05 L95.58 688.81 L95.65 687.63 L95.71 687.93 L95.77 687.41 L95.83 687.36 L95.89 686.69 L95.95 685.59 L96.02 685.25 L96.08 685.13 L96.14 683.89 L96.20 683.95 L96.26 683.14 L96.32 682.62 L96.38 682.09 L96.45 682.48 L96.51 681.25 L96.57 680.93 L96.63 680.64 L96.69 680.75 L96.75 679.34 L96.82 679.32 L96.88 678.98 L96.94 678.92 L97.00 678.38 L97.08 677.99 L97.17 676.84 L97.25 676.56 L97.34 676.04 L97.42 676.22 L97.51 675.87 L97.59 674.45 L97.67 674.03 L97.76 673.65 L97.84 673.21 L97.93 673.06 L98.01 672.74 L98.09 671.90 L98.18 671.14 L98.26 671.19 L98.35 670.69 L98.43 670.47 L98.52 670.49 L98.60 669.73 L98.72 669.08 L98.84 668.76 L98.95 668.39 L99.07 667.20 L99.19 667.77 L99.31 667.19 L99.42 666.86 L99.54 666.33 L99.66 665.40 L99.78 664.97 L99.89 664.17 L100.01 664.37 L100.13 663.24 L100.25 662.80 L100.36 662.53 L100.48 662.04 L100.60 661.81" fill="none" stroke="#000" stroke-width="2.5" stroke-linejoin="round" stroke-linecap="round"/>
<path d="M98.60 670.23 L98.73 669.72 L98.87 667.79 L99.00 667.34 L99.13 668.04 L99.27 667.38 L99.40 666.77 L99.53 665.69 L99.67 665.67 L99.80 665.17 L99.93 664.63 L100.07 663.45 L100.20 663.39 L100.33 662.83 L100.47 662.86 L100.60 662.79 L100.77 662.23 L100.94 661.10 L101.11 660.45 L101.29 659.69 L101.46 658.83 L101.63 658.33 L101.80 658.54 L101.97 657.82 L102.14 657.44 L102.31 657.77 L102.49 656.70 L102.66 656.27 L102.83 655.26 L103.00 654.44 L103.22 654.45 L103.45 653.67 L103.67 653.80 L103.89 654.11 L104.11 653.12 L104.34 651.85 L104.56 652.52 L104.78 651.89 L105.00 651.32 L105.23 651.12 L105.45 650.42 L105.67 649.99 L105.90 648.82 L106.12 649.35 L106.34 648.85 L106.56 647.09 L106.79 647.57 L107.01 647.04 L107.23 646.16 L107.45 645.79 L107.68 645.26 L107.90 645.48 L108.20 644.39 L108.51 644.51 L108.81 643.34 L109.12 643.78 L109.42 643.39 L109.73 642.28 L110.03 642.04 L110.34 642.20 L110.64 641.48 L110.95 640.69 L111.25 639.85 L111.55 639.61 L111.86 639.80 L112.16 638.54 L112.47 639.32 L112.77 637.88 L113.08 638.50 L113.38 637.13 L113.69 637.76 L113.99 636.95 L114.30 636.22 L114.60 635.83 L115.03 635.75 L115.45 635.35 L115.88 634.61 L116.31 634.15 L116.73 634.35 L117.16 634.73 L117.58 633.93 L118.01 632.76 L118.44 633.66 L118.86 633.21 L119.29 633.21 L119.72 631.77 L120.14 632.36 L120.57 630.97 L120.99 631.62 L121.42 630.72 L121.85 630.35 L122.27 631.10 L122.70 629.57 L123.19 630.09 L123.69 630.47 L124.18 629.35 L124.68 629.15 L125.17 630.07 L125.67 629.19 L126.16 629.52 L126.66 628.27 L127.15 628.65 L127.65 628.20 L128.14 628.86 L128.64 627.76 L129.13 629.01 L129.63 627.38 L130.12 628.36 L130.62 627.08 L131.11 627.30 L131.61 628.05 L132.10 626.85 L132.58 626.72 L133.06 627.36 L133.54 626.70 L134.01 625.98 L134.49 627.33 L134.97 625.81 L135.45 625.46 L135.93 625.78 L136.41 626.04 L136.89 626.07 L137.36 624.90 L137.84 625.08 L138.32 624.42 L138.80 624.92 L139.32 625.54 L139.83 625.62 L140.35 625.99 L140.87 625.88 L141.38 626.16 L141.90 626.03 L142.42 625.77 L142.93 625.49 L143.45 626.31 L143.97 625.87 L144.48 625.65 L145.00 626.32 L145.52 626.99 L146.04 625.79 L146.56 626.51 L147.09 626.20 L147.61 626.39 L148.13 625.79 L148.65 627.09 L149.17 625.96 L149.69 626.51 L150.21 626.20 L150.74 625.55 L151.26 626.41 L151.78 625.73 L152.30 625.59 L152.81 625.64 L153.33 625.93 L153.84 625.92 L154.35 626.87 L154.86 626.75 L155.38 627.60 L155.89 627.61 L156.40 627.79 L156.91 626.66 L157.43 627.09 L157.94 626.86 L158.45 627.50 L158.96 627.64 L159.47 628.01 L159.99 627.95 L160.50 627.31 L161.01 627.66 L161.53 627.92 L162.04 627.17 L162.55 627.31 L163.06 627.99 L163.57 627.60 L164.09 628.67 L164.60 627.99 L165.10 627.84 L165.59 628.04 L166.09 628.20 L166.59 628.25 L167.08 628.81 L167.58 628.80 L168.08 628.63 L168.58 629.23 L169.07 628.62 L169.57 629.81 L170.07 629.97 L170.56 629.68 L171.06 629.28 L171.56 629.48 L172.05 629.67 L172.55 628.89 L173.05 629.56 L173.55 629.80 L174.04 629.33 L174.54 629.27 L175.04 630.48 L175.53 629.85 L176.03 630.17 L176.53 630.89 L177.02 630.47 L177.52 630.03 L178.02 631.22 L178.52 630.32 L179.01 629.83 L179.51 630.97 L180.01 630.11 L180.50 630.51 L181.00 631.44 L181.51 631.24 L182.02 630.26 L182.53 631.02 L183.04 631.02 L183.55 631.21 L184.06 630.83 L184.57 631.50 L185.07 630.74 L185.58 631.15 L186.09 631.35 L186.60 632.32 L187.11 631.01 L187.62 632.16 L188.13 631.33 L188.64 632.00 L189.15 631.78 L189.66 631.96 L190.17 632.49 L190.68 631.98 L191.19 631.61 L191.70 631.67 L192.21 631.67 L192.72 632.97 L193.23 632.70 L193.73 633.28 L194.24 632.91 L194.75 631.91 L195.26 632.99 L195.77 633.25 L196.28 633.23 L196.79 632.93 L197.30 632.77 L197.80 632.99 L198.30 633.60 L198.80 632.82 L199.30 633.30 L199.80 633.28 L200.30 634.11 L200.80 633.93 L201.30 634.20 L201.80 634.11 L202.30 633.31 L202.80 633.27 L203.30 633.74 L203.80 633.44 L204.30 633.77 L204.80 634.24 L205.30 634.68 L205.80 634.21 L206.30 634.65 L206.80 633.56 L207.30 634.04 L207.80 635.13 L208.30 633.83 L208.80 634.32 L209.30 633.83 L209.80 633.92 L210.30 635.28 L210.80 635.49 L211.30 635.01 L211.80 634.24 L212.30 634.57" fill="none" stroke="#000" stroke-width="3.0" stroke-linejoin="round" stroke-linecap="round"/>
<path d="M93.59 702.55 L93.74 701.66 L93.80 699.50 L93.83 699.89 L94.20 696.57 L94.12 699.12 L94.42 695.68 L94.63 696.62 L94.62 693.46 L94.93 695.45 L94.81 691.84 L95.08 693.32 L95.15 689.21 L95.36 691.65 L95.43 689.72 L95.75 687.50 L95.59 686.54 L95.87 687.82 L96.07 684.60 L96.05 685.15 L96.42 681.81 L96.44 683.42 L96.41 682.36 L96.46 679.28 L96.79 680.51 L96.87 677.92 L96.86 676.75 L97.05 678.70 L97.54 674.67 L97.37 676.78 L97.79 673.30 L97.81 674.61 L97.96 671.16 L98.16 673.28 L98.33 667.88 L98.55 672.71 L99.01 665.11 L99.13 670.31 L99.51 664.05 L99.65 667.91 L100.05 663.06 L100.26 664.87 L100.52 660.71 L100.75 663.51 L100.93 662.78 L101.24 662.32 L101.65 658.45 L101.83 656.39 L102.20 659.42 L102.29 655.99 L102.87 658.21 L103.07 652.34 L103.47 655.56 L103.88 655.14 L104.39 651.38 L104.56 654.23 L105.18 649.76 L105.32 652.69 L105.82 647.04 L106.40 650.76 L106.49 644.08 L107.11 651.49 L107.35 643.90 L107.79 648.79 L108.44 640.78 L109.20 645.81 L109.45 639.92 L110.00 642.87 L110.70 639.37 L111.37 642.77 L111.90 634.52 L112.53 637.45 L113.04 639.97 L113.37 640.53 L114.13 633.83 L114.79 637.34 L115.57 637.53 L116.20 631.65 L116.84 636.44 L117.71 628.75 L118.51 634.82 L119.54 630.20 L120.10 635.11 L121.17 632.88 L121.91 628.23 L122.86 631.97 L123.65 628.39 L124.58 627.27 L125.53 633.70 L126.46 631.06 L127.37 624.26 L128.33 631.78 L129.44 626.90 L130.27 630.11 L130.97 622.60 L132.03 628.90 L133.15 625.19 L133.89 628.05 L134.94 624.10 L135.98 630.19 L136.93 623.16 L137.97 622.31 L138.97 628.14 L139.54 623.65 L140.41 623.80 L141.31 628.57 L142.22 623.82 L143.07 628.63 L144.19 628.42 L144.81 623.02 L145.77 628.71 L147.02 624.90 L147.92 631.44 L148.64 624.23 L149.37 628.58 L150.46 623.66 L151.25 629.07 L152.42 622.18 L153.21 623.78 L154.31 629.06 L155.25 628.43 L156.24 624.01 L156.99 624.45 L157.96 631.88 L158.97 626.36 L159.80 629.18 L160.77 625.18 L161.87 631.28 L162.80 622.87 L163.53 629.88 L164.76 624.59 L165.54 630.86 L166.25 632.03 L167.51 626.39 L168.24 630.37 L169.12 624.74 L169.98 626.97 L171.06 631.94 L171.71 625.89 L172.96 631.06 L173.89 625.12 L174.61 628.71 L175.71 633.36 L176.57 627.49 L177.34 626.01 L178.12 633.89 L179.08 628.55 L180.10 633.16 L180.90 627.55 L181.96 632.33 L182.84 629.25 L183.59 633.67 L184.77 629.74 L185.50 628.45 L186.26 635.98 L187.39 630.47 L188.18 633.75 L189.00 629.18 L189.94 634.99 L190.91 630.15 L191.89 634.86 L192.72 629.64 L193.51 633.81 L194.50 630.30 L195.55 637.50 L196.47 631.64 L197.39 636.59 L198.27 629.33 L199.15 636.41 L200.07 636.26 L200.99 630.27 L201.94 635.49 L202.94 632.21 L203.97 636.81 L204.81 630.87 L205.80 636.38 L206.79 638.99 L207.77 631.17 L208.65 635.67 L209.59 631.99 L210.36 636.92 L211.38 631.49 L212.26 637.62" fill="none" stroke="#000" stroke-width="1.25" stroke-linejoin="miter" stroke-miterlimit="8" stroke-linecap="round"/>
<path d="M71.90 817.60 L73.20 818.13 L74.50 817.75 L75.80 818.15 L77.10 818.14 L78.40 817.02 L79.70 816.88 L81.00 818.39 L82.30 817.24 L83.75 817.11 L85.20 818.48 L86.65 817.39 L88.10 818.01 L89.55 817.24 L91.00 817.46 L92.23 816.04 L93.46 816.46 L94.69 816.40 L95.91 815.24 L97.14 815.16 L98.37 814.53 L99.60 812.87 L100.98 813.85 L102.36 813.19 L103.74 812.30 L105.12 811.45 L106.50 812.69 L107.80 811.85 L109.10 812.22 L110.40 812.42 L111.70 812.01 L113.00 812.30 L114.30 811.20 L115.60 811.87 L116.90 811.09 L118.20 812.13 L119.50 812.12 L120.80 810.74 L122.10 810.91 L123.40 811.16 L124.70 812.68 L126.00 811.78 L127.30 812.24 L128.71 811.60 L130.12 811.97 L131.53 811.72 L132.94 811.63 L134.36 812.05 L135.77 812.03 L137.18 812.61 L138.59 812.17 L140.00 812.61 L141.33 812.36 L142.66 812.50 L143.99 811.78 L145.32 810.70 L146.65 811.91 L147.98 811.99 L149.32 811.76 L150.65 811.01 L151.98 811.17 L153.31 810.10 L154.64 811.16 L155.97 810.56 L157.30 809.89 L158.63 809.34 L159.96 810.71 L161.29 810.84 L162.62 809.00 L163.95 810.22 L165.28 809.35 L166.62 808.72 L167.95 808.86 L169.28 809.63 L170.61 809.70 L171.94 808.00 L173.27 808.95 L174.60 807.74 L175.90 808.58 L177.20 807.40 L178.50 808.01 L179.80 807.76 L181.10 806.42 L182.40 806.92 L183.70 805.18 L185.00 804.30 L186.30 804.85 L187.60 803.33 L188.90 803.21 L190.20 803.18 L191.50 803.12 L192.80 801.82 L194.10 801.17 L195.40 802.30 L196.70 800.71 L198.00 801.40 L199.30 800.74 L200.60 799.22 L201.90 798.84 L203.20 798.41 L204.50 798.11 L205.80 797.48 L207.10 796.88 L208.40 796.45 L209.70 796.52 L211.00 795.16 L212.30 794.48 L213.60 794.49 L214.90 793.04 L216.20 792.62" fill="none" stroke="#000" stroke-width="3.0" stroke-linejoin="round" stroke-linecap="round"/>
<path d="M71.89 818.85 L73.06 817.24 L74.16 819.17 L75.26 815.72 L76.62 819.74 L77.61 819.49 L78.78 815.69 L80.16 817.05 L81.14 818.84 L82.19 815.93 L83.70 816.13 L84.88 816.09 L85.91 818.18 L87.22 815.75 L88.47 818.44 L89.95 818.84 L91.10 816.05 L92.12 817.58 L93.32 815.56 L94.07 816.86 L95.25 814.82 L96.56 816.39 L97.49 815.62 L98.42 815.76 L99.72 812.09 L100.57 814.90 L101.77 812.27 L103.24 813.48 L104.38 814.02 L105.23 811.10 L106.54 813.56 L107.58 812.98 L108.62 810.63 L110.00 813.11 L111.03 810.32 L112.13 812.60 L113.41 813.12 L114.44 810.66 L115.63 812.49 L116.98 810.45 L118.21 813.49 L119.20 809.89 L120.45 812.09 L121.34 810.70 L122.60 812.66 L123.67 812.89 L125.18 813.10 L126.17 810.99 L127.24 812.63 L128.28 812.92 L129.59 811.32 L130.74 814.24 L131.81 810.75 L133.15 812.52 L134.12 810.35 L135.57 812.89 L136.62 811.20 L137.79 813.46 L138.92 810.46 L140.05 812.65 L140.96 810.15 L142.16 810.67 L143.64 813.71 L144.80 809.95 L145.82 812.70 L146.85 809.83 L148.15 810.24 L149.18 811.79 L150.43 809.21 L151.44 811.69 L152.81 809.92 L153.84 812.28 L154.89 809.90 L156.07 810.96 L157.15 809.20 L158.27 811.69 L159.50 809.30 L160.91 811.48 L162.07 810.42 L162.89 808.28 L164.21 811.16 L165.31 807.99 L166.36 810.30 L167.56 809.91 L168.83 807.30 L169.83 810.43 L171.22 807.26 L172.42 810.26 L173.46 806.91 L174.60 809.91 L175.92 807.47 L177.07 809.19 L178.02 806.24 L179.03 805.35 L180.48 807.63 L181.55 804.93 L182.71 804.26 L183.79 804.00 L185.02 804.45 L185.97 806.25 L187.38 803.26 L188.48 805.73 L189.52 805.18 L190.88 802.09 L191.88 804.10 L193.07 801.24 L194.37 802.58 L195.35 800.16 L196.47 799.15 L197.37 801.99 L198.34 798.87 L199.54 800.88 L200.68 798.43 L201.54 800.62 L202.56 797.09 L203.64 796.58 L204.67 800.04 L205.68 795.92 L206.91 798.02 L207.76 795.48 L208.89 797.72 L209.77 794.88 L211.00 796.58 L212.09 793.01 L213.13 795.28 L214.24 792.76 L215.05 794.00 L216.20 791.74" fill="none" stroke="#000" stroke-width="1.0" stroke-linejoin="miter" stroke-miterlimit="8" stroke-linecap="round"/>
<path d="M71.90 830.50 L73.07 829.51 L74.23 829.34 L75.40 828.14 L76.55 827.19 L77.70 827.05 L78.85 827.24 L80.00 826.24 L81.15 825.39 L82.30 823.57 L83.75 823.74 L85.20 822.81 L86.65 822.18 L88.10 821.62 L89.55 821.39 L91.00 822.31 L92.43 821.99 L93.87 821.82 L95.30 821.67 L96.73 820.38 L98.17 820.47 L99.60 820.94 L100.98 820.62 L102.36 820.33 L103.74 819.86 L105.12 817.83 L106.50 818.30 L107.80 818.10 L109.10 817.46 L110.40 816.51 L111.70 816.75 L113.00 815.69 L114.30 816.98 L115.60 816.52 L116.90 815.59 L118.20 815.01 L119.50 816.05 L120.80 815.30 L122.10 815.78 L123.40 815.60 L124.70 814.84 L126.00 814.55 L127.30 814.79 L128.71 814.39 L130.12 813.80 L131.53 814.00 L132.94 814.88 L134.36 813.34 L135.77 813.27 L137.18 814.30 L138.59 813.56 L140.00 813.97 L141.33 813.77 L142.66 813.45 L143.99 814.61 L145.32 813.01 L146.65 813.35 L147.98 812.87 L149.32 813.61 L150.65 812.86 L151.98 812.93 L153.31 813.60 L154.64 812.71 L155.97 813.09 L157.30 813.67 L158.63 812.01 L159.96 811.81 L161.29 811.99 L162.62 812.88 L163.95 812.47 L165.28 811.62 L166.62 811.66 L167.95 811.24 L169.28 811.65 L170.61 810.72 L171.94 811.84 L173.27 812.08 L174.60 812.06 L175.93 811.51 L177.26 811.80 L178.59 809.87 L179.92 810.25 L181.25 811.39 L182.58 810.89 L183.92 810.06 L185.25 810.93 L186.58 810.18 L187.91 810.42 L189.24 809.28 L190.57 808.95 L191.90 809.29 L193.29 808.71 L194.68 809.18 L196.07 810.28 L197.46 809.08 L198.85 808.47 L200.24 808.54 L201.63 808.77 L203.02 809.94 L204.41 809.14 L205.80 809.00 L207.10 808.31 L208.40 809.67 L209.70 808.28 L211.00 807.55 L212.30 806.94 L213.60 806.61 L214.90 806.50 L216.20 807.14" fill="none" stroke="#000" stroke-width="3.0" stroke-linejoin="round" stroke-linecap="round"/>
<path d="M72.10 833.70 L73.00 828.50 L74.16 831.16 L75.57 830.08 L76.42 825.73 L77.40 826.53 L78.38 828.47 L79.53 827.51 L80.39 824.51 L81.19 824.05 L82.47 824.71 L83.45 822.61 L84.51 825.11 L85.54 822.22 L86.85 824.16 L87.91 821.49 L88.66 823.85 L89.85 820.19 L90.81 822.45 L92.11 820.19 L93.59 823.65 L94.69 819.49 L96.01 822.23 L97.08 822.05 L98.55 819.32 L99.54 821.27 L100.66 819.51 L101.75 820.43 L102.92 818.59 L104.08 817.09 L105.48 819.50 L106.31 818.70 L107.76 817.02 L108.70 818.94 L109.83 815.37 L111.12 818.57 L112.09 814.39 L113.63 818.83 L114.44 814.50 L115.55 816.75 L117.02 814.49 L118.19 817.03 L119.07 814.13 L120.49 816.76 L121.67 813.37 L122.56 816.47 L123.73 813.16 L125.01 815.98 L126.25 813.10 L127.42 815.18 L128.33 812.00 L129.57 815.63 L130.95 815.71 L132.04 812.66 L132.97 812.94 L134.04 814.84 L135.31 812.23 L136.48 814.85 L137.84 812.49 L139.03 815.67 L139.90 812.73 L141.35 815.75 L142.43 811.23 L143.41 815.85 L144.67 811.98 L145.83 814.18 L146.75 812.51 L147.96 814.17 L149.03 812.25 L150.28 814.96 L151.49 811.85 L152.85 814.39 L153.99 811.88 L155.07 814.53 L156.17 811.72 L157.49 813.88 L158.30 811.53 L159.53 815.10 L160.85 810.08 L161.97 814.27 L163.19 810.48 L164.08 812.96 L165.24 811.44 L166.50 812.65 L167.57 810.78 L168.68 812.53 L170.16 811.02 L171.23 812.85 L172.11 810.60 L173.61 812.28 L174.68 809.53 L175.92 808.89 L176.95 809.86 L178.11 812.42 L179.27 809.21 L180.50 811.20 L181.37 809.38 L182.73 811.22 L183.77 809.32 L184.86 810.77 L186.05 807.99 L187.45 808.24 L188.43 811.29 L189.74 811.21 L190.59 806.98 L191.76 810.23 L193.05 808.05 L194.12 808.33 L195.47 810.10 L196.36 808.42 L197.57 810.32 L199.03 811.20 L200.00 807.72 L201.27 811.65 L202.44 808.85 L203.34 810.54 L204.46 808.23 L205.69 811.13 L206.81 807.89 L208.11 810.09 L209.39 806.29 L210.56 810.24 L211.73 806.30 L212.57 808.69 L214.03 806.47 L214.89 808.03 L216.11 805.92" fill="none" stroke="#000" stroke-width="1.0" stroke-linejoin="miter" stroke-miterlimit="8" stroke-linecap="round"/>
<path d="M71.90 836.43 L73.20 836.03 L74.50 835.51 L75.80 835.17 L77.10 834.16 L78.40 834.28 L79.70 832.36 L81.00 832.96 L82.30 833.64 L83.75 832.65 L85.20 832.70 L86.65 830.77 L88.10 831.01 L89.55 830.15 L91.00 830.28 L92.43 829.91 L93.87 828.41 L95.30 828.36 L96.73 828.05 L98.17 828.82 L99.60 828.10 L101.05 826.75 L102.50 827.76 L103.95 826.31 L105.40 827.02 L106.85 825.89 L108.30 825.45 L109.73 826.82 L111.17 825.28 L112.60 825.01 L114.03 826.18 L115.47 825.69 L116.90 824.30 L118.20 825.35 L119.50 824.32 L120.80 824.36 L122.10 823.24 L123.40 824.41 L124.70 823.71 L126.00 824.01 L127.30 823.65 L128.71 822.36 L130.12 822.33 L131.53 821.80 L132.94 821.60 L134.36 821.30 L135.77 821.59 L137.18 822.01 L138.59 820.71 L140.00 821.84 L141.33 821.19 L142.66 821.14 L143.99 822.11 L145.32 821.46 L146.65 821.15 L147.98 821.46 L149.32 821.89 L150.65 820.66 L151.98 822.40 L153.31 820.59 L154.64 821.97 L155.97 822.16 L157.30 820.58 L158.63 821.99 L159.96 821.12 L161.29 821.46 L162.62 820.32 L163.95 820.33 L165.28 820.52 L166.62 821.93 L167.95 820.43 L169.28 821.43 L170.61 821.70 L171.94 821.66 L173.27 820.47 L174.60 820.42 L175.93 820.61 L177.26 820.95 L178.59 819.54 L179.92 820.62 L181.25 820.57 L182.58 820.55 L183.92 818.85 L185.25 820.44 L186.58 818.68 L187.91 819.01 L189.24 819.39 L190.57 819.83 L191.90 818.60 L193.29 819.59 L194.68 818.75 L196.07 818.18 L197.46 818.07 L198.85 817.69 L200.24 817.38 L201.63 817.39 L203.02 818.30 L204.41 818.76 L205.80 817.06 L207.10 816.78 L208.40 818.50 L209.70 817.58 L211.00 817.27 L212.30 816.89 L213.60 817.50 L214.90 817.88 L216.20 817.12" fill="none" stroke="#000" stroke-width="3.0" stroke-linejoin="round" stroke-linecap="round"/>
<path d="M71.73 837.87 L72.79 836.97 L73.96 834.42 L74.99 836.27 L75.88 833.03 L77.15 835.20 L78.35 831.75 L79.53 834.49 L80.98 831.90 L82.23 834.13 L83.23 830.94 L84.60 832.75 L85.48 830.87 L86.49 832.99 L87.63 829.68 L89.00 832.06 L89.88 829.77 L91.19 830.78 L92.27 828.35 L93.10 831.01 L94.10 831.00 L95.14 827.22 L96.50 829.77 L97.43 827.39 L98.68 826.96 L99.73 828.98 L100.81 826.10 L102.22 828.74 L103.35 826.40 L104.40 828.48 L105.84 827.97 L106.86 825.45 L108.45 827.41 L109.51 825.36 L110.75 827.97 L112.00 824.29 L113.36 826.34 L114.51 823.59 L115.61 826.22 L116.86 823.78 L118.08 825.56 L119.10 823.44 L120.21 824.97 L121.50 821.80 L122.58 825.29 L123.96 825.24 L125.12 822.42 L126.22 823.76 L127.36 821.01 L128.33 822.02 L129.70 822.07 L130.87 823.64 L131.85 820.85 L132.96 823.97 L134.24 823.20 L135.44 820.42 L136.69 823.33 L137.64 820.02 L138.80 823.11 L139.88 820.07 L141.12 823.53 L142.21 819.95 L143.33 822.43 L144.63 819.96 L145.93 820.20 L146.75 823.24 L147.90 819.93 L149.32 822.09 L150.25 822.91 L151.54 819.23 L152.68 823.70 L153.89 820.77 L154.87 822.96 L156.06 820.53 L157.22 822.65 L158.48 818.74 L159.79 824.02 L160.95 818.99 L161.75 820.60 L163.12 822.75 L164.42 822.35 L165.47 819.79 L166.40 823.50 L167.54 819.22 L168.94 823.69 L170.04 819.67 L171.17 821.58 L172.43 819.64 L173.49 821.40 L174.72 819.14 L175.94 822.29 L177.03 819.17 L178.23 821.52 L179.25 818.70 L180.53 821.65 L181.40 820.68 L182.51 818.70 L183.81 820.59 L184.80 820.36 L186.23 818.23 L187.39 820.11 L188.35 817.18 L189.53 817.70 L190.86 819.68 L191.99 817.86 L192.87 819.56 L194.06 820.29 L195.56 817.16 L196.39 820.20 L197.87 819.31 L199.03 816.98 L199.97 819.23 L201.10 816.15 L202.27 819.90 L203.62 816.23 L204.53 819.67 L205.70 815.96 L206.86 816.98 L208.30 819.26 L209.37 814.80 L210.46 818.91 L211.50 814.85 L212.58 819.86 L213.83 816.62 L215.07 816.58 L216.25 818.65" fill="none" stroke="#000" stroke-width="1.0" stroke-linejoin="miter" stroke-miterlimit="8" stroke-linecap="round"/>
<text x="80.60" y="874.00" font-size="16.3" text-anchor="middle">1</text>
<text x="103.20" y="874.00" font-size="16.3" text-anchor="middle">2</text>
<text x="126.30" y="874.00" font-size="16.3" text-anchor="middle">3</text>
<text x="147.50" y="874.00" font-size="16.3" text-anchor="middle">4</text>
<text x="169.10" y="876.20" font-size="16.3" text-anchor="middle">5</text>
<text x="192.20" y="874.00" font-size="16.3" text-anchor="middle">6</text>
<text x="213.40" y="874.00" font-size="16.3" text-anchor="middle">7</text>
<text x="148.90" y="900.80" font-size="16.8" font-weight="bold" text-anchor="middle" textLength="91.4" lengthAdjust="spacingAndGlyphs">Time (min)</text>
<text x="229.20" y="643.20" font-size="15.6" textLength="131.7" lengthAdjust="spacingAndGlyphs">+ IgG (donor 19)</text>
<text x="221.60" y="793.80" font-size="15.6" textLength="94.7" lengthAdjust="spacingAndGlyphs">+ anti-FbsA</text>
<text x="318.60" y="793.80" font-size="15.6" textLength="8.1" lengthAdjust="spacingAndGlyphs">–</text>
<text x="329.80" y="793.80" font-size="15.6" textLength="187.8" lengthAdjust="spacingAndGlyphs">depleted IgG (donor 19)</text>
<text x="221.60" y="814.20" font-size="15.6" textLength="139.6" lengthAdjust="spacingAndGlyphs">+ mAb IV.3 + IgG</text>
<text x="367.40" y="814.20" font-size="15.6" textLength="80.5" lengthAdjust="spacingAndGlyphs">(donor 19)</text>
<text x="221.60" y="835.00" font-size="15.6" textLength="130.5" lengthAdjust="spacingAndGlyphs">+ IgG (donor 20)</text>
</svg>
</body>
</html>
